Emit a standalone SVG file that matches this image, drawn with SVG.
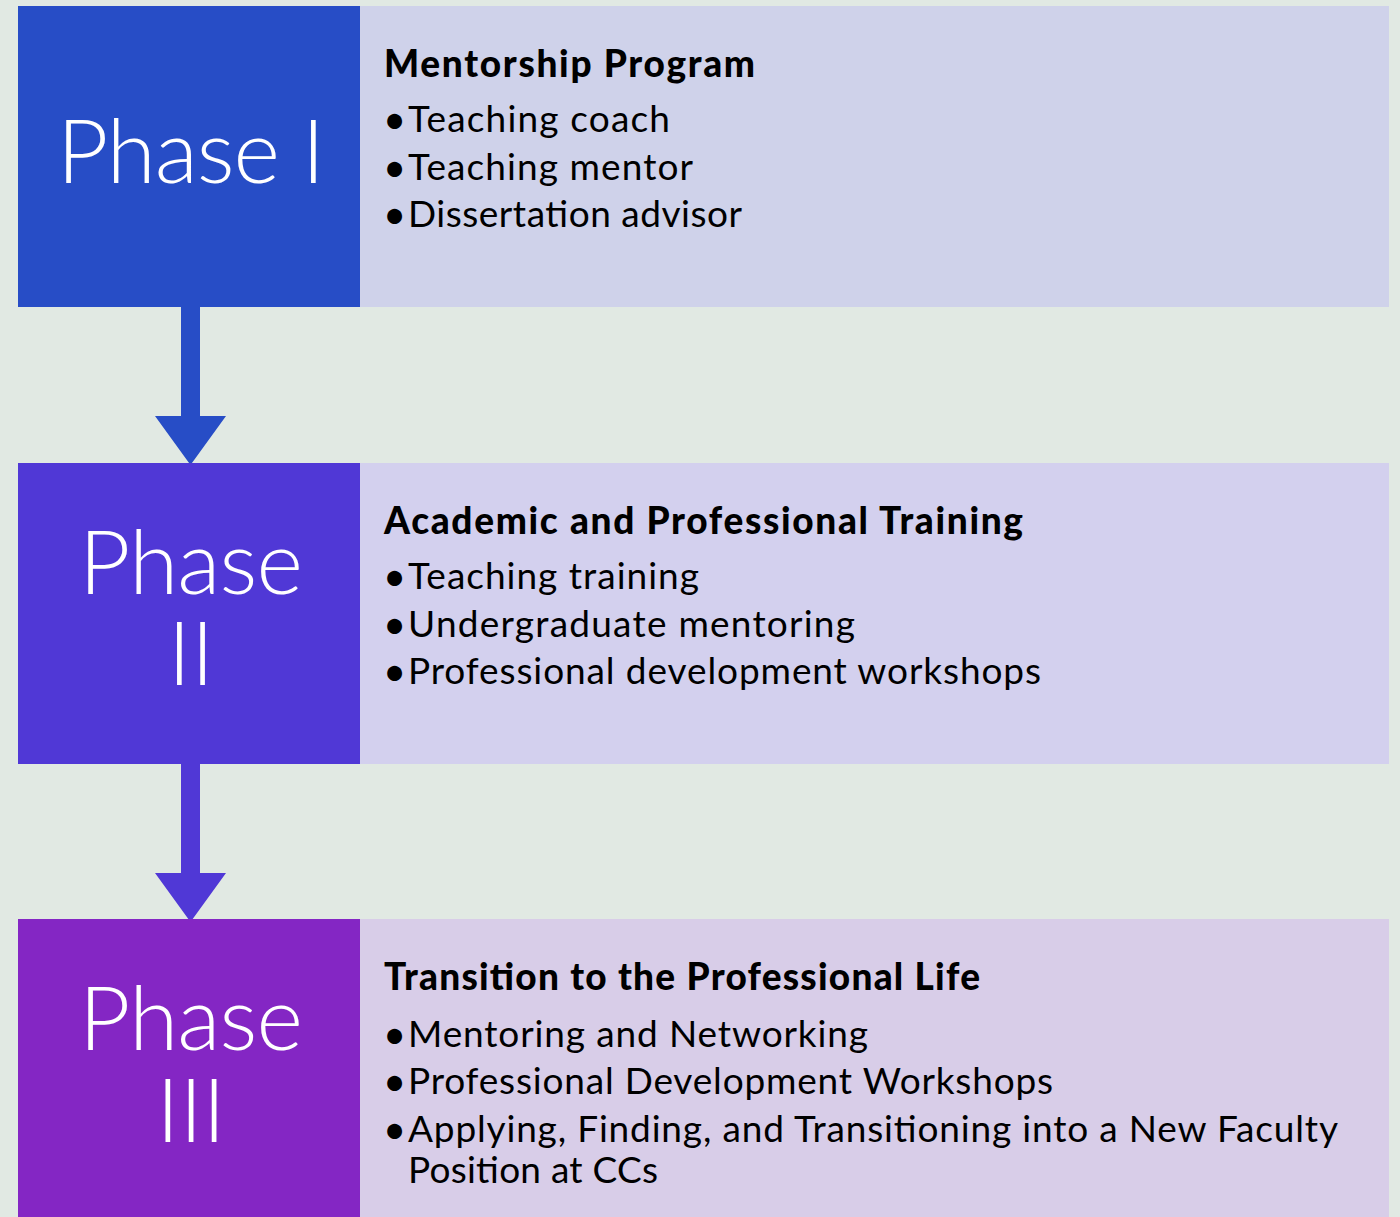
<svg xmlns="http://www.w3.org/2000/svg" width="1400" height="1217" viewBox="0 0 1400 1217">
<style>
.ph{font-family:Lato,"Open Sans",sans-serif;font-weight:300;font-size:89px;fill:#ffffff;text-anchor:middle}
.hd{font-family:Lato,"Liberation Sans",sans-serif;font-weight:900;font-size:37px;fill:#000}
.bl{font-family:Lato,"Liberation Sans",sans-serif;font-weight:400;font-size:37px;fill:#000}
.bu{font-family:Lato,"Liberation Sans",sans-serif;font-size:40px;fill:#000}
</style>
<rect width="1400" height="1217" fill="#e1e9e3"/>
<g id="connectors">
<path d="M181 307 H200 V416 H226 L190.5 465 L155 416 H181 Z" fill="#274dc6"/>
<path d="M181 764 H200 V873 H226 L190.5 922 L155 873 H181 Z" fill="#5038d6"/>
</g>
<g id="phase1">
<rect x="360" y="6" width="1029" height="301" fill="#cfd2ea"/>
<rect x="18" y="6" width="342" height="301" fill="#274dc6"/>
<text class="ph" x="191" y="183" textLength="268" lengthAdjust="spacing">Phase I</text>
<text class="hd" x="384" y="77" textLength="371" lengthAdjust="spacing">Mentorship Program</text>
<text class="bu" x="383" y="134">•</text>
<text class="bl" x="408" y="132" textLength="262" lengthAdjust="spacing">Teaching coach</text>
<text class="bu" x="383" y="182">•</text>
<text class="bl" x="408" y="180" textLength="285" lengthAdjust="spacing">Teaching mentor</text>
<text class="bu" x="383" y="229">•</text>
<text class="bl" x="408" y="227" textLength="334" lengthAdjust="spacing">Dissertation advisor</text>
</g>
<g id="phase2">
<rect x="360" y="463" width="1029" height="301" fill="#d3d0ee"/>
<rect x="18" y="463" width="342" height="301" fill="#5038d6"/>
<text class="ph"><tspan x="191" y="594" textLength="224" lengthAdjust="spacing">Phase</tspan><tspan x="191" y="685">II</tspan></text>
<text class="hd" x="384" y="534" textLength="639" lengthAdjust="spacing">Academic and Professional Training</text>
<text class="bu" x="383" y="591">•</text>
<text class="bl" x="408" y="589" textLength="291" lengthAdjust="spacing">Teaching training</text>
<text class="bu" x="383" y="639">•</text>
<text class="bl" x="408" y="637" textLength="447" lengthAdjust="spacing">Undergraduate mentoring</text>
<text class="bu" x="383" y="686">•</text>
<text class="bl" x="408" y="684" textLength="633" lengthAdjust="spacing">Professional development workshops</text>
</g>
<g id="phase3">
<rect x="360" y="919" width="1029" height="298" fill="#d8cde8"/>
<rect x="18" y="919" width="342" height="298" fill="#8426c4"/>
<text class="ph"><tspan x="191" y="1050" textLength="224" lengthAdjust="spacing">Phase</tspan><tspan x="191" y="1142">III</tspan></text>
<text class="hd" x="384" y="990" textLength="596" lengthAdjust="spacing">Transition to the Professional Life</text>
<text class="bu" x="383" y="1049">•</text>
<text class="bl" x="408" y="1047" textLength="460" lengthAdjust="spacing">Mentoring and Networking</text>
<text class="bu" x="383" y="1096">•</text>
<text class="bl" x="408" y="1094" textLength="645" lengthAdjust="spacing">Professional Development Workshops</text>
<text class="bu" x="383" y="1144">•</text>
<text class="bl" x="408" y="1142" textLength="930" lengthAdjust="spacing">Applying, Finding, and Transitioning into a New Faculty</text>
<text class="bl" x="408" y="1183" textLength="250" lengthAdjust="spacing">Position at CCs</text>
</g>
</svg>
